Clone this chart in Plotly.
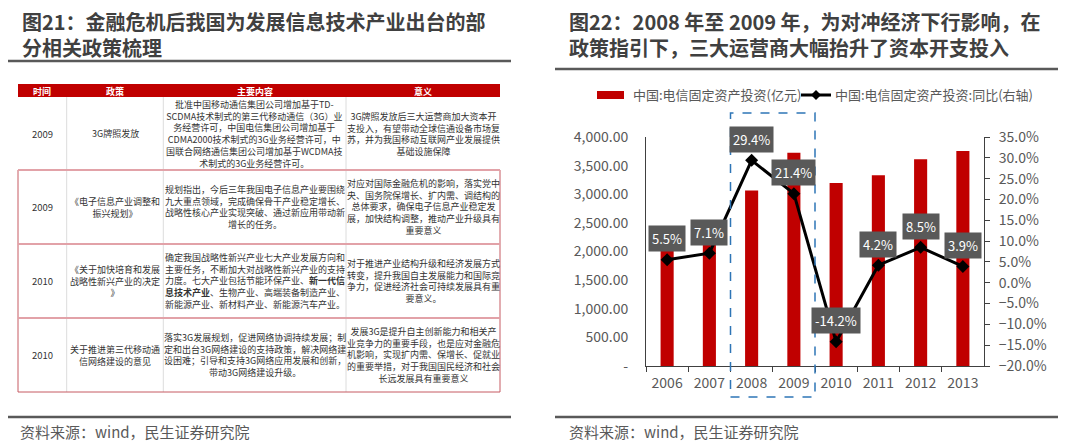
import plotly.graph_objects as go

W, H = 1080, 443
OFF = 8  # the page body has a default 8px margin
FONT = "Microsoft YaHei, Noto Sans CJK SC, Noto Sans, sans-serif"

# ---------------- chart data ----------------
years = ["2006", "2007", "2008", "2009", "2010", "2011", "2012", "2013"]
invest = [2213, 2370, 3065, 3726, 3197, 3331, 3610, 3755]          # 亿元
yoy = [0.055, 0.071, 0.294, 0.214, -0.142, 0.042, 0.085, 0.039]     # 同比
yoy_labels = ["5.5%", "7.1%", "29.4%", "21.4%", "-14.2%", "4.2%", "8.5%", "3.9%"]
left_tickvals = [0, 500, 1000, 1500, 2000, 2500, 3000, 3500, 4000]
left_ticktext = ["-", "500.00", "1,000.00", "1,500.00", "2,000.00",
                 "2,500.00", "3,000.00", "3,500.00", "4,000.00"]
legend_names = ["中国:电信固定资产投资(亿元)", "中国:电信固定资产投资:同比(右轴)"]

# ---------------- table data ----------------
table_header = ["时间", "政策", "主要内容", "意义"]
col_time = ["2009", "2009", "2010", "2010"]
col_policy = [
    "3G牌照发放",
    "《电子信息产业调整和<br>振兴规划》",
    "《关于加快培育和发展<br>战略性新兴产业的决定<br>》",
    "关于推进第三代移动通<br>信网络建设的意见",
]
col_content = [
    "批准中国移动通信集团公司增加基于TD-<br>SCDMA技术制式的第三代移动通信（3G）业<br>务经营许可，中国电信集团公司增加基于<br>CDMA2000技术制式的3G业务经营许可，中<br>国联合网络通信集团公司增加基于WCDMA技<br>术制式的3G业务经营许可。",
    "规划指出，今后三年我国电子信息产业要围绕<br>九大重点领域，完成确保骨干产业稳定增长、<br>战略性核心产业实现突破、通过新应用带动新<br>增长的任务。",
    "确定我国战略性新兴产业七大产业发展方向和<br>主要任务，不断加大对战略性新兴产业的支持<br>力度。七大产业包括节能环保产业、<b>新一代信</b><br><b>息技术产业</b>、生物产业、高端装备制造产业、<br>新能源产业、新材料产业、新能源汽车产业。",
    "落实3G发展规划，促进网络协调持续发展；制<br>定和出台3G网络建设的支持政策，解决网络建<br>设困难；引导和支持3G网络应用发展和创新，<br>带动3G网络建设升级。",
]
col_meaning = [
    "3G牌照发放后三大运营商加大资本开<br>支投入，有望带动全球信通设备市场复<br>苏，并为我国移动互联网产业发展提供<br>基础设施保障",
    "对应对国际金融危机的影响，落实党中<br>央、国务院保增长、扩内需、调结构的<br>总体要求，确保电子信息产业稳定发<br>展，加快结构调整，推动产业升级具有<br>重要意义",
    "对于推进产业结构升级和经济发展方式<br>转变，提升我国自主发展能力和国际竞<br>争力，促进经济社会可持续发展具有重<br>要意义。",
    "发展3G是提升自主创新能力和相关产<br>业竞争力的重要手段，也是应对金融危<br>机影响，实现扩内需、保增长、促就业<br>的重要举措，对于我国国民经济和社会<br>长远发展具有重要意义",
]

left_title = ["图21：金融危机后我国为发展信息技术产业出台的部", "分相关政策梳理"]
right_title = ["图22：2008 年至 2009 年，为对冲经济下行影响，在", "政策指引下，三大运营商大幅抬升了资本开支投入"]
source_text = "资料来源：wind，民生证券研究院"


def X(px):
    return (px - OFF) / W


def Y(py):
    return 1 - (py - OFF) / H


fig = go.Figure()
fig.add_trace(go.Bar(x=years, y=invest, name=legend_names[0], marker_color="#C00000",
                     width=0.31, yaxis="y", showlegend=False))
fig.add_trace(go.Scatter(x=years, y=yoy, name=legend_names[1], mode="lines+markers",
                         line=dict(color="#000000", width=3),
                         marker=dict(symbol="diamond", size=10, color="#000000"),
                         yaxis="y2", showlegend=False))

shapes = []
annotations = []


def paper_text(px, py, text, size, color, xanchor="center", yanchor="middle", align="center"):
    annotations.append(dict(x=X(px), y=Y(py), xref="paper", yref="paper", xanchor=xanchor,
                            yanchor=yanchor, text=text, showarrow=False, align=align,
                            font=dict(family=FONT, size=size, color=color)))


# data labels
for i, (v, lab) in enumerate(zip(yoy, yoy_labels)):
    annotations.append(dict(x=i, y=v, xref="x", yref="y2", text=lab, showarrow=False,
                            xanchor="center", yanchor="middle",
                            yshift=21, bgcolor="#595959", borderpad=3,
                            font=dict(family=FONT, size=13, color="#FFFFFF")))

# dashed highlight box (2008-2009)
shapes.append(dict(type="rect", xref="x", yref="paper", x0=1.5, x1=3.5,
                   y0=Y(397), y1=Y(113), line=dict(color="#2E75B6", width=1.5, dash="dash"),
                   fillcolor="rgba(0,0,0,0)"))

# custom legend
shapes.append(dict(type="rect", xref="paper", yref="paper", x0=X(597), x1=X(624),
                   y0=Y(99), y1=Y(91), fillcolor="#C00000", line=dict(width=0)))
paper_text(631, 95, legend_names[0], 13, "#595959", xanchor="left")
shapes.append(dict(type="line", xref="paper", yref="paper", x0=X(801), x1=X(831),
                   y0=Y(95), y1=Y(95), line=dict(color="#000000", width=3)))
cx, cy, d = 816, 95, 5
path = "M {} {} L {} {} L {} {} L {} {} Z".format(X(cx), Y(cy - d), X(cx + d), Y(cy),
                                                 X(cx), Y(cy + d), X(cx - d), Y(cy))
shapes.append(dict(type="path", xref="paper", yref="paper", path=path,
                   fillcolor="#000000", line=dict(width=0)))
paper_text(833, 95, legend_names[1], 13, "#595959", xanchor="left")

# titles (two lines each, one text block)
title_color = "#404040"
paper_text(20, 34.5, "<b>" + left_title[0] + "</b><br><b>" + left_title[1] + "</b>",
           20, title_color, xanchor="left", align="left")
paper_text(567, 35, "<b>" + right_title[0] + "</b><br><b>" + right_title[1] + "</b>",
           20, title_color, xanchor="left", align="left")

rule_color = "#595959"
for x0, x1, py in [(7, 511, 61), (555, 1058, 69), (7, 511, 417), (555, 1058, 417)]:
    shapes.append(dict(type="line", xref="paper", yref="paper", x0=X(x0), x1=X(x1),
                       y0=Y(py), y1=Y(py), line=dict(color=rule_color, width=2.5)))

# sources
for sx in [18, 567]:
    paper_text(sx, 431, source_text, 15, "#595959", xanchor="left")

# ---------------- table ----------------
col_x = [18, 66.7, 163.3, 346, 500]
row_y = [84, 97, 170, 244, 318, 392]
shapes.append(dict(type="rect", xref="paper", yref="paper", x0=X(col_x[0]), x1=X(col_x[-1]),
                   y0=Y(row_y[1]), y1=Y(row_y[0]), fillcolor="#C00000", line=dict(width=0)))
for j, h in enumerate(table_header):
    paper_text((col_x[j] + col_x[j + 1]) / 2, (row_y[0] + row_y[1]) / 2 + 0.5,
               "<b>" + h + "</b>", 9, "#FFFFFF")
# inner vertical lines
for cxp in col_x[1:-1]:
    shapes.append(dict(type="line", xref="paper", yref="paper", x0=X(cxp), x1=X(cxp),
                       y0=Y(row_y[1]), y1=Y(row_y[-1]), line=dict(color="#DCDCDC", width=1)))
# red frames for rows 2-4
shapes.append(dict(type="rect", xref="paper", yref="paper", x0=X(col_x[0]), x1=X(col_x[-1]),
                   y0=Y(row_y[-1]), y1=Y(row_y[2]), line=dict(color="#C65A62", width=1),
                   fillcolor="rgba(0,0,0,0)"))
for ry in row_y[2:5]:
    shapes.append(dict(type="line", xref="paper", yref="paper", x0=X(col_x[0]), x1=X(col_x[-1]),
                       y0=Y(ry), y1=Y(ry), line=dict(color="#E2A2A8", width=2)))

cells_cols = [col_time, col_policy, col_content, col_meaning]
for j, col in enumerate(cells_cols):
    for i, txt in enumerate(col):
        paper_text((col_x[j] + col_x[j + 1]) / 2, (row_y[i + 1] + row_y[i + 2]) / 2,
                   txt, 9 if j >= 1 else 9.5, "#333333")

axis_color = "#404040"
fig.update_layout(
    template="none",
    width=W, height=H,
    margin=dict(l=0, r=0, t=0, b=0, pad=0, autoexpand=False),
    paper_bgcolor="#FFFFFF", plot_bgcolor="#FFFFFF",
    font=dict(family=FONT, color="#595959"),
    showlegend=False,
    bargap=0.69,
    xaxis=dict(type="category", domain=[X(646), X(984)], range=[-0.5, len(years) - 0.5],
               autorange=False, automargin=False, showline=True, linecolor=axis_color,
               linewidth=1, ticks="outside", tickson="boundaries", ticklen=5,
               tickcolor=axis_color, showgrid=False, zeroline=False, tickangle=0,
               ticklabelstandoff=4,
               tickfont=dict(family=FONT, size=14, color="#595959")),
    yaxis=dict(domain=[Y(366), Y(137)], range=[0, 4000], autorange=False, automargin=False,
               tickvals=left_tickvals,
               ticktext=left_ticktext, showline=True, linecolor=axis_color, linewidth=1,
               ticks="", showgrid=False, zeroline=False, ticklabelstandoff=14,
               tickfont=dict(family=FONT, size=14, color="#595959")),
    yaxis2=dict(overlaying="y", side="right", range=[-0.2, 0.35], autorange=False,
                automargin=False, dtick=0.05,
                tickformat=".1%", showline=True, linecolor=axis_color, linewidth=1,
                ticks="outside", ticklen=5, tickcolor=axis_color, showgrid=False,
                zeroline=False, ticklabelstandoff=6,
                tickfont=dict(family=FONT, size=14, color="#595959")),
    shapes=shapes,
    annotations=annotations,
)

fig.write_html("out.html")
